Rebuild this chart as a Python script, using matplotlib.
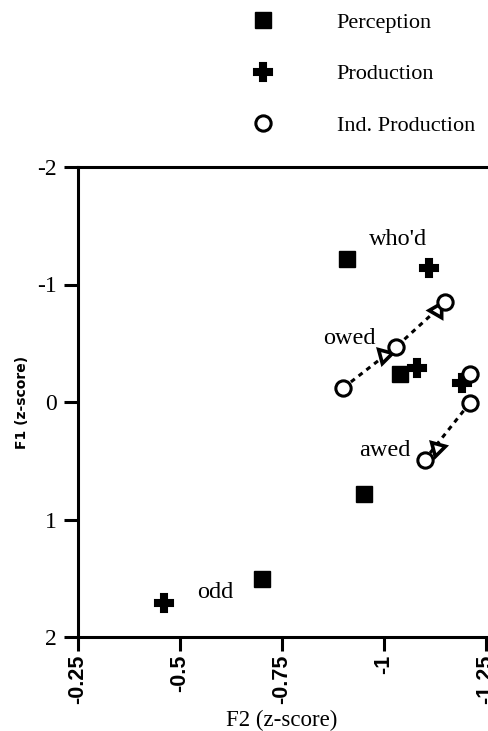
import numpy as np
from matplotlib import pyplot as plt

# vowel data (z-scores)
vowels = ["who'd", "owed", "awed", "odd"]

perc_f2 = [-0.91, -1.04, -0.95, -0.70]
perc_f1 = [-1.22, -0.24, 0.78, 1.51]

prod_f2 = [-1.11, -1.08, -1.19, -0.46]
prod_f1 = [-1.14, -0.29, -0.16, 1.71]

ind_f2 = [-0.90, -1.03, -1.15, -1.21, -1.21, -1.10]
ind_f1 = [-0.12, -0.47, -0.85, -0.24, 0.01, 0.49]

# dotted trajectories through the Ind. Production points
paths = [[0, 1, 2], [4, 5]]

# arrowheads on the trajectories
arrow_f2 = [-1.13, -1.00, -1.13]
arrow_f1 = [-0.78, -0.40, 0.39]
arrow_rot = [90, 45, 45]

# where the vowel names sit
label_f2 = [-1.035, -0.915, -1.002, -0.586]
label_f1 = [-1.38, -0.54, 0.41, 1.62]

xticks = [-0.25, -0.5, -0.75, -1, -1.25]
xtick_labels = ['-0.25', '-0.5', '-0.75', '-1', '-1.25']
yticks = [-2, -1, 0, 1, 2]

serif = 'Liberation Serif'
sans = 'Liberation Sans'

fig = plt.figure(figsize=(4.89, 7.31), dpi=100)
ax = fig.add_axes([78/489, 1-637/731, 408/489, 470/731])

for p in paths:
    ax.plot([ind_f2[i] for i in p], [ind_f1[i] for i in p], color='black',
            linestyle=(0, (1.6, 1.6)), linewidth=2.2, zorder=2)

for x, y, r in zip(arrow_f2, arrow_f1, arrow_rot):
    ax.plot(x, y, marker=(3, 0, r), markersize=12, mfc='white', mec='black',
            mew=2.6, linestyle='none', zorder=3)

h1, = ax.plot(perc_f2, perc_f1, 's', color='black', markersize=12, linestyle='none', zorder=4)
h2, = ax.plot(prod_f2, prod_f1, 'P', color='black', markersize=13, mew=1.5, linestyle='none', zorder=4)
h3, = ax.plot(ind_f2, ind_f1, 'o', mfc='white', mec='black', markersize=11, mew=2.2,
              linestyle='none', zorder=5)

for name, x, y in zip(vowels, label_f2, label_f1):
    ax.text(x, y, name, family=serif, fontsize=17.5, ha='center', va='center')

ax.set_xlim(-0.25, -1.25)
ax.set_ylim(2, -2)
ax.set_xticks(xticks)
ax.set_xticklabels(xtick_labels, rotation=90, family=sans, fontweight='bold', fontsize=15.5)
ax.set_yticks(yticks)
ax.set_yticklabels([str(t) for t in yticks], family=serif, fontsize=17)
ax.tick_params(axis='both', direction='out', length=10, width=2.2)
ax.tick_params(axis='y', pad=5)
ax.tick_params(axis='x', pad=3)

for s in ['left', 'top', 'bottom']:
    ax.spines[s].set_linewidth(2.2)
ax.spines['right'].set_visible(False)

ax.set_xlabel('F2 (z-score)', family=serif, fontsize=16.5, labelpad=4)
ax.set_ylabel('F1 (z-score)', family='DejaVu Sans', fontweight='bold', fontsize=10)
ax.yaxis.set_label_coords(-0.12, 0.5)

leg = fig.legend([h1, h2, h3], ['Perception', 'Production', 'Ind. Production'],
                 loc='upper left', bbox_to_anchor=(240/489, 1.0), frameon=False,
                 prop={'family': serif, 'size': 16}, handletextpad=2.8,
                 labelspacing=1.4, handlelength=1.0, borderaxespad=0.15)

fig.savefig('out.png', dpi=100)
